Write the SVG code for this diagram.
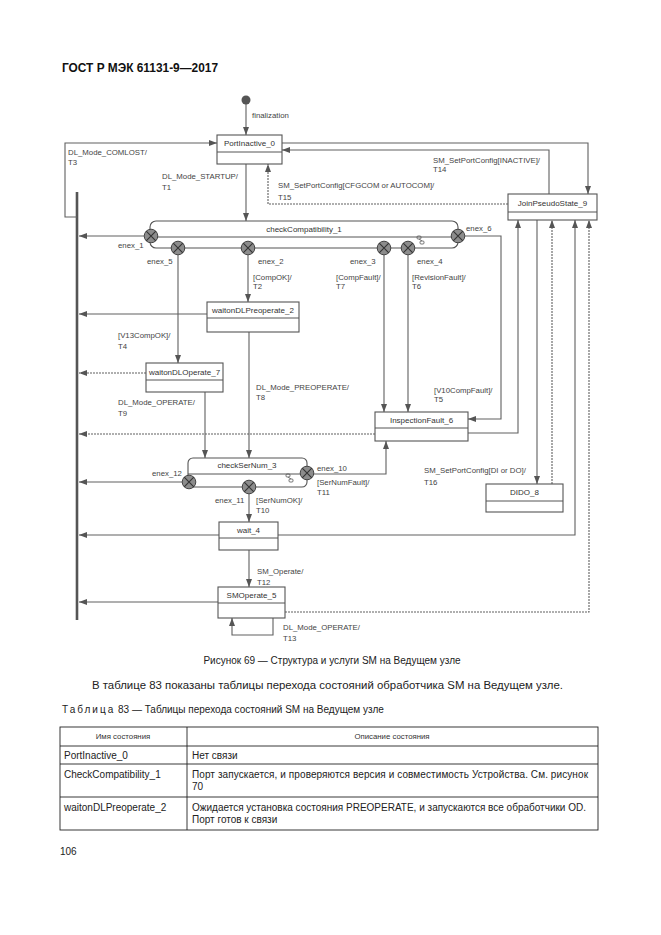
<svg xmlns="http://www.w3.org/2000/svg" xmlns:xlink="http://www.w3.org/1999/xlink" width="661" height="935" viewBox="0 0 661 935">
<style>
  .bg { fill: #ffffff; }
  .st { fill: #ffffff; stroke: #555; stroke-width: 1.1; }
  .dv { stroke: #555; stroke-width: 1; fill: none; }
  .ln { fill: none; stroke: #606060; stroke-width: 1.1; }
  .lna { fill: none; stroke: #606060; stroke-width: 1.1; marker-end: url(#ah); }
  .dot { stroke-dasharray: 2 1; }
  .bus { fill: none; stroke: #555; stroke-width: 2.6; }
  .lb { font-family: "Liberation Sans", Arial, sans-serif; font-size: 7.8px; fill: #444; }
  .nm { font-family: "Liberation Sans", Arial, sans-serif; font-size: 8px; fill: #333; text-anchor: middle; }
  .tx { font-family: "Liberation Sans", Arial, sans-serif; font-size: 10px; fill: #222; }
  .th { font-family: "Liberation Sans", Arial, sans-serif; font-size: 7.8px; fill: #333; text-anchor: middle; }
  .tb { fill: none; stroke: #222; stroke-width: 0.9; }
</style>
<defs>
  <marker id="ah" viewBox="0 0 8 6" refX="8" refY="3" markerWidth="8" markerHeight="6" markerUnits="userSpaceOnUse" orient="auto">
    <path d="M0,0 L8,3 L0,6 z" fill="#555"/>
  </marker>
  <g id="enexsym">
    <circle cx="0" cy="0" r="6.8" fill="#8c8c8c" stroke="#444" stroke-width="1"/>
    <path d="M-4.8,-4.8 L4.8,4.8 M-4.8,4.8 L4.8,-4.8" stroke="#333" stroke-width="1.1"/>
  </g>
  <g id="compicon">
    <rect x="-3" y="-4" width="4" height="3" rx="1" fill="none" stroke="#555" stroke-width="0.8"/>
    <rect x="0" y="1" width="4" height="3" rx="1" fill="none" stroke="#555" stroke-width="0.8"/>
    <path d="M-1,-1 L2,1" stroke="#555" stroke-width="0.8"/>
  </g>
</defs>
<rect class="bg" x="0" y="0" width="661" height="935"/>

<text x="62" y="72" font-family="Liberation Sans, Arial, sans-serif" font-size="12px" font-weight="bold" fill="#111" textLength="156" lengthAdjust="spacingAndGlyphs">ГОСТ Р МЭК 61131-9—2017</text>

<g id="connectors">
  <path class="lna" d="M246,104 V135"/>
  <path class="lna" d="M246,164 V221"/>
  <path class="bus" d="M77,192 V620"/>
  <path class="lna" d="M77,217 H65 V143 H217"/>
  <path class="lna" d="M282,143 H588 V194"/>
  <path class="lna" d="M549,194 V150 H282"/>
  <path class="lna dot" d="M508,204 H268 V164"/>
  <path class="lna" d="M144,236 H79"/>
  <path class="lna" d="M248,255 V302"/>
  <path class="lna" d="M178,255 V363"/>
  <path class="lna" d="M384,255 V412"/>
  <path class="lna" d="M408,255 V412"/>
  <path class="lna" d="M465,236 H501 V419 H468"/>
  <path class="lna" d="M207,314 H79"/>
  <path class="lna" d="M249,332 V458"/>
  <path class="lna dot" d="M146,373 H79"/>
  <path class="lna" d="M205,392 V458"/>
  <path class="lna dot" d="M375,434 H79"/>
  <path class="lna" d="M468,433 H518 V220"/>
  <path class="lna" d="M182,482 H79"/>
  <path class="lna" d="M313,474 H386 V441"/>
  <path class="lna" d="M249,494 V522"/>
  <path class="lna" d="M219,535 H79"/>
  <path class="lna" d="M278,535 H575 V220"/>
  <path class="lna" d="M249,550 V587"/>
  <path class="lna" d="M218,602 H79"/>
  <path class="lna dot" d="M285,612 H589 V220"/>
  <path class="lna" d="M273,618 V635 H232 V618"/>
  <path class="lna" d="M537,220 V484"/>
  <path class="lna dot" d="M552,484 V220"/>

  <text class="lb" x="252" y="118">finalization</text>
  <text class="lb" x="68" y="155">DL_Mode_COMLOST/</text>
  <text class="lb" x="68" y="165">T3</text>
  <text class="lb" x="162" y="179">DL_Mode_STARTUP/</text>
  <text class="lb" x="162" y="190">T1</text>
  <text class="lb" x="278" y="188">SM_SetPortConfig[CFGCOM or AUTOCOM]/</text>
  <text class="lb" x="278" y="200">T15</text>
  <text class="lb" x="433" y="163">SM_SetPortConfig[INACTIVE]/</text>
  <text class="lb" x="433" y="172">T14</text>
  <text class="lb" x="253" y="280">[CompOK]/</text>
  <text class="lb" x="253" y="289">T2</text>
  <text class="lb" x="336" y="280">[CompFault]/</text>
  <text class="lb" x="336" y="289">T7</text>
  <text class="lb" x="412" y="280">[RevisionFault]/</text>
  <text class="lb" x="412" y="289">T6</text>
  <text class="lb" x="118" y="338">[V13CompOK]/</text>
  <text class="lb" x="118" y="349">T4</text>
  <text class="lb" x="256" y="390">DL_Mode_PREOPERATE/</text>
  <text class="lb" x="256" y="400">T8</text>
  <text class="lb" x="434" y="393">[V10CompFault]/</text>
  <text class="lb" x="434" y="402">T5</text>
  <text class="lb" x="118" y="405">DL_Mode_OPERATE/</text>
  <text class="lb" x="118" y="416">T9</text>
  <text class="lb" x="317" y="485">[SerNumFault]/</text>
  <text class="lb" x="317" y="495">T11</text>
  <text class="lb" x="256" y="503">[SerNumOK]/</text>
  <text class="lb" x="256" y="513">T10</text>
  <text class="lb" x="424" y="473">SM_SetPortConfig[DI or DO]/</text>
  <text class="lb" x="424" y="485">T16</text>
  <text class="lb" x="257" y="574">SM_Operate/</text>
  <text class="lb" x="257" y="585">T12</text>
  <text class="lb" x="283" y="630">DL_Mode_OPERATE/</text>
  <text class="lb" x="283" y="641">T13</text>
</g>

<g id="initial">
  <circle cx="246" cy="100" r="4.5" fill="#555"/>
</g>

<g id="PortInactive_0">
  <rect class="st" x="217" y="135" width="65" height="29"/>
  <path class="dv" d="M217,152 H282"/>
  <text class="nm" x="249.5" y="146">PortInactive_0</text>
</g>

<g id="JoinPseudoState_9">
  <rect class="st" x="508" y="194" width="89" height="26"/>
  <path class="dv" d="M508,212 H597"/>
  <text class="nm" x="552.5" y="206">JoinPseudoState_9</text>
</g>

<g id="checkCompatibility_1">
  <rect class="st" x="150" y="221" width="308" height="27" rx="6"/>
  <path class="dv" d="M150,237 H458"/>
  <text class="nm" x="304" y="232">checkCompatibility_1</text>
  <use xlink:href="#compicon" x="420" y="240"/>
</g>

<g id="enex_1"><use xlink:href="#enexsym" x="151" y="236"/><text class="lb" x="118" y="248">enex_1</text></g>
<g id="enex_5"><use xlink:href="#enexsym" x="178" y="248"/><text class="lb" x="147" y="264">enex_5</text></g>
<g id="enex_2"><use xlink:href="#enexsym" x="248" y="248"/><text class="lb" x="258" y="264">enex_2</text></g>
<g id="enex_3"><use xlink:href="#enexsym" x="384" y="248"/><text class="lb" x="350" y="264">enex_3</text></g>
<g id="enex_4"><use xlink:href="#enexsym" x="408" y="248"/><text class="lb" x="417" y="264">enex_4</text></g>
<g id="enex_6"><use xlink:href="#enexsym" x="458" y="236"/><text class="lb" x="466" y="231">enex_6</text></g>

<g id="waitonDLPreoperate_2">
  <rect class="st" x="207" y="302" width="92" height="30"/>
  <path class="dv" d="M207,318 H299"/>
  <text class="nm" x="253" y="313">waitonDLPreoperate_2</text>
</g>

<g id="waitonDLOperate_7">
  <rect class="st" x="146" y="363" width="77" height="29"/>
  <path class="dv" d="M146,380 H223"/>
  <text class="nm" x="184.5" y="375">waitonDLOperate_7</text>
</g>

<g id="InspectionFault_6">
  <rect class="st" x="375" y="412" width="93" height="29"/>
  <path class="dv" d="M375,428 H468"/>
  <text class="nm" x="421.5" y="423">InspectionFault_6</text>
</g>

<g id="checkSerNum_3">
  <rect class="st" x="188" y="458" width="119" height="29" rx="5"/>
  <path class="dv" d="M188,474 H307"/>
  <text class="nm" x="247" y="468">checkSerNum_3</text>
  <use xlink:href="#compicon" x="289" y="478"/>
</g>

<g id="enex_12"><use xlink:href="#enexsym" x="189" y="482"/><text class="lb" x="152" y="476">enex_12</text></g>
<g id="enex_10"><use xlink:href="#enexsym" x="307" y="473"/><text class="lb" x="317" y="471">enex_10</text></g>
<g id="enex_11"><use xlink:href="#enexsym" x="249" y="487"/><text class="lb" x="215" y="503">enex_11</text></g>

<g id="DIDO_8">
  <rect class="st" x="486" y="484" width="77" height="28"/>
  <path class="dv" d="M486,501 H563"/>
  <text class="nm" x="524.5" y="495">DIDO_8</text>
</g>

<g id="wait_4">
  <rect class="st" x="219" y="522" width="59" height="28"/>
  <path class="dv" d="M219,538 H278"/>
  <text class="nm" x="248.5" y="533">wait_4</text>
</g>

<g id="SMOperate_5">
  <rect class="st" x="218" y="587" width="67" height="31"/>
  <path class="dv" d="M218,603 H285"/>
  <text class="nm" x="251.5" y="598">SMOperate_5</text>
</g>

<text class="tx" x="332" y="664" text-anchor="middle">Рисунок 69 — Структура и услуги SM на Ведущем узле</text>
<text class="tx" x="92" y="689" font-size="12px" textLength="471" lengthAdjust="spacingAndGlyphs">В таблице 83 показаны таблицы перехода состояний обработчика SM на Ведущем узле.</text>
<text class="tx" x="62" y="713" font-size="10px"><tspan letter-spacing="2">Таблица</tspan> 83 — Таблицы перехода состояний SM на Ведущем узле</text>

<g id="table">
  <rect class="tb" x="60" y="727" width="538" height="103"/>
  <path class="tb" d="M60,746 H598 M60,764 H598 M60,797 H598 M187,727 V830"/>
  <text class="th" x="123" y="739">Имя состояния</text>
  <text class="th" x="392" y="739">Описание состояния</text>
  <text class="tx" x="64" y="759">PortInactive_0</text>
  <text class="tx" x="192" y="759">Нет связи</text>
  <text class="tx" x="64" y="778">CheckCompatibility_1</text>
  <text class="tx" x="192" y="778" textLength="396" lengthAdjust="spacing">Порт запускается, и проверяются версия и совместимость Устройства. См. рисунок</text>
  <text class="tx" x="192" y="790">70</text>
  <text class="tx" x="64" y="811">waitonDLPreoperate_2</text>
  <text class="tx" x="192" y="811" textLength="394" lengthAdjust="spacing">Ожидается установка состояния PREOPERATE, и запускаются все обработчики OD.</text>
  <text class="tx" x="192" y="823">Порт готов к связи</text>
</g>

<text class="tx" x="60" y="855">106</text>
</svg>
